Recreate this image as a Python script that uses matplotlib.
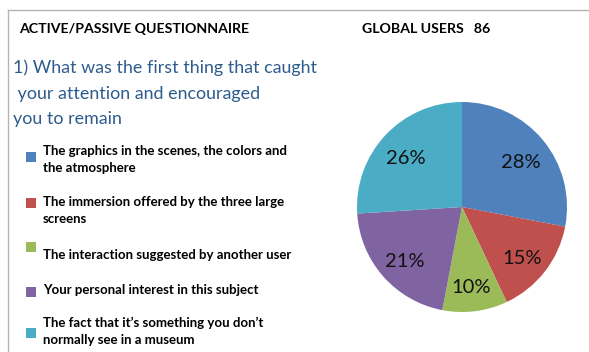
import matplotlib
matplotlib.use('Agg')
import matplotlib.pyplot as plt
from matplotlib.patches import Rectangle
from matplotlib.lines import Line2D

plt.rcParams['font.family'] = ['Lato', 'DejaVu Sans']

# data
labels = ['The graphics in the scenes, the colors and\nthe atmosphere',
          'The immersion offered by the three large\nscreens',
          'The interaction suggested by another user',
          'Your personal interest in this subject',
          "The fact that it\u2019s something you don\u2019t\nnormally see in a museum"]
values = [28, 15, 10, 21, 26]
colors = ['#4F81BD', '#C0504D', '#9BBB59', '#8064A2', '#4BACC6']

W, H = 589, 352
fig = plt.figure(figsize=(W / 100, H / 100), dpi=100)
fig.patch.set_facecolor('white')

def fx(px):
    return px / W

def fy(py):
    return 1 - py / H

# frame lines (top and left)
fig.add_artist(Line2D([fx(8), 1], [fy(10), fy(10)], color='#b4b4b4', lw=1))
fig.add_artist(Line2D([fx(8), fx(8)], [fy(10), 0], color='#b4b4b4', lw=1))

fig.text(fx(19), fy(29), 'ACTIVE/PASSIVE QUESTIONNAIRE', fontsize=10.2,
         fontweight='bold', va='center', ha='left')
fig.text(fx(362), fy(29), 'GLOBAL USERS   86', fontsize=10.2,
         fontweight='bold', va='center', ha='left')

# question
q_color = '#2E5C8C'
fig.text(fx(13), fy(68), '1) What was the first thing that caught', fontsize=12.9,
         color=q_color, va='center', ha='left')
fig.text(fx(13), fy(94), ' your attention and encouraged', fontsize=12.9,
         color=q_color, va='center', ha='left')
fig.text(fx(13), fy(119), 'you to remain', fontsize=12.9,
         color=q_color, va='center', ha='left')

# legend (manual)
text_y = [151, 202, 255, 290, 323]
box_y = [152, 198, 242, 287, 328]
for lab, c, ty, by in zip(labels, colors, text_y, box_y):
    fig.add_artist(Rectangle((fx(26), fy(by + 10)), fx(10), 10 / H,
                             facecolor=c, edgecolor='none'))
    fig.text(fx(43), fy(ty - 6), lab, fontsize=9.5, fontweight='bold',
             va='top', ha='left', linespacing=1.5)

# pie
cx, cy, r = 462, 207, 105
ax = fig.add_axes([fx(cx - r), fy(cy + r), 2 * r / W, 2 * r / H])
wedges, texts = ax.pie(values, colors=colors, startangle=90, counterclock=False,
                       radius=1, labels=[f'{v}%' for v in values],
                       labeldistance=0.73,
                       textprops=dict(fontsize=14.5, color='#111111'),
                       wedgeprops=dict(edgecolor='none'))
for t in texts:
    t.set_ha('center')
    t.set_va('center')
    x, y = t.get_position()
    t.set_position((x, y - 0.04))
ax.set_xlim(-1, 1)
ax.set_ylim(-1, 1)
ax.set_aspect('equal')
ax.axis('off')

fig.savefig('out.png', dpi=100)
